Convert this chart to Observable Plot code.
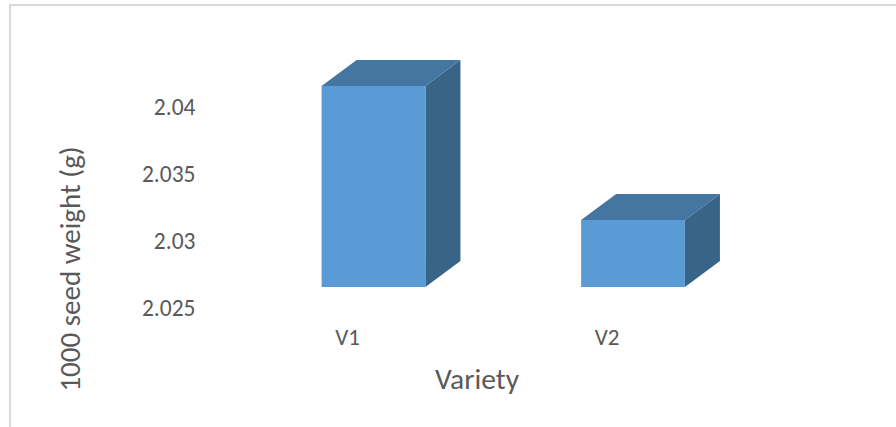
<!DOCTYPE html>
<html>
<head>
<meta charset="utf-8">
<script src="https://cdn.jsdelivr.net/npm/d3@7"></script>
<script src="https://cdn.jsdelivr.net/npm/@observablehq/plot@0.6"></script>
<style>
html,body{margin:0;padding:0;background:#fff;overflow:hidden}
#frame{position:absolute;left:9px;top:4px;right:0;bottom:0;border-left:2px solid #d9d9d9;border-top:2px solid #d9d9d9}
#chart{position:absolute;left:0;top:0}
#chart svg{background:transparent;display:block}
</style>
</head>
<body>
<div id="frame"></div>
<div id="chart"></div>
<script>
const categories = ["V1", "V2"];
const seedWeight = [2.04, 2.03];
const yTicks = [2.025, 2.03, 2.035, 2.04];
const yTitle = "1000 seed weight (g)";
const xTitle = "Variety";

const base = 2.025, halfW = 0.2, depthX = 0.135, depthY = 0.00194;
const rows = categories.map((name, i) => ({name, i, v: seedWeight[i]}));
const side = rows.flatMap(d => [
  {name: d.name, x: d.i + halfW, y1: base, y2: d.v},
  {name: d.name, x: d.i + halfW + depthX, y1: base + depthY, y2: d.v + depthY}
]);
const top_ = rows.flatMap(d => [
  {name: d.name, x: d.i - halfW, y1: d.v, y2: d.v},
  {name: d.name, x: d.i - halfW + depthX, y1: d.v, y2: d.v + depthY},
  {name: d.name, x: d.i + halfW, y1: d.v, y2: d.v + depthY},
  {name: d.name, x: d.i + halfW + depthX, y1: d.v + depthY, y2: d.v + depthY}
]);

const labelFont = "Carlito, Lato, sans-serif";
const chart = Plot.plot({
  width: 896, height: 427,
  marginTop: 0, marginRight: 0, marginBottom: 0, marginLeft: 0,
  style: {fontFamily: labelFont, background: "transparent", overflow: "visible"},
  x: {type: "linear", domain: [0, 1], range: [373.5, 633]},
  y: {domain: [2.025, 2.045], range: [287, 19]},
  marks: [
    Plot.area(side, {x1: "x", y1: "y1", y2: "y2", z: "name", fill: "#386488"}),
    Plot.area(top_, {x1: "x", y1: "y1", y2: "y2", z: "name", fill: "#4576a2"}),
    Plot.rect(rows, {x1: d => d.i - halfW, x2: d => d.i + halfW, y1: base, y2: "v", fill: "#5b9bd5"}),
    Plot.axisY({ticks: yTicks, tickFormat: String, tickSize: 0, label: null, anchor: "left", frameAnchor: "left",
      dx: 195, dy: 21, fontSize: 23.5, fill: "#595959", textAnchor: "end", tickPadding: 0}),
    Plot.axisX({ticks: [0, 1], tickFormat: i => categories[i], tickSize: 0, label: null, anchor: "bottom",
      dx: -26.5, dy: -90, fontSize: 23, fill: "#595959", tickPadding: 0, lineAnchor: "middle"}),
    Plot.text([xTitle], {frameAnchor: "top-left", dx: 476.5, dy: 379, fontSize: 29.5, fill: "#595959", textAnchor: "middle", lineAnchor: "middle"}),
    Plot.text([yTitle], {frameAnchor: "top-left", dx: 70, dy: 268.5, fontSize: 29, fill: "#595959", rotate: -90, textAnchor: "middle", lineAnchor: "middle"})
  ]
});
document.getElementById("chart").append(chart);
</script>
</body>
</html>
